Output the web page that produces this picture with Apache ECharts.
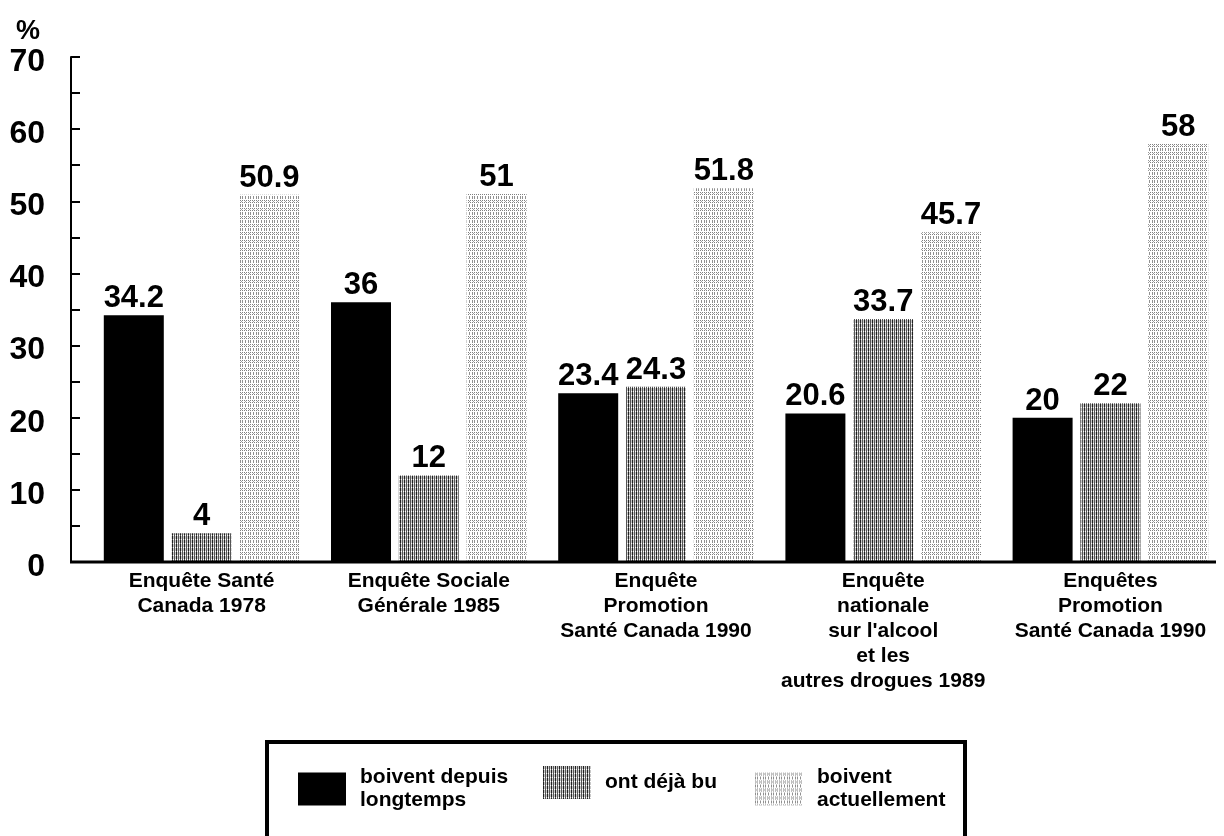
<!DOCTYPE html>
<html>
<head>
<meta charset="utf-8">
<script src="https://cdn.jsdelivr.net/npm/echarts@6/dist/echarts.min.js"></script>
<style>html,body{margin:0;padding:0;background:#fff}#c{width:1224px;height:836px}</style>
</head>
<body>
<div id="c"></div>
<script>
const categories = [
  'Enquête Santé\nCanada 1978',
  'Enquête Sociale\nGénérale 1985',
  'Enquête\nPromotion\nSanté Canada 1990',
  "Enquête\nnationale\nsur l'alcool\net les\nautres drogues 1989",
  'Enquêtes\nPromotion\nSanté Canada 1990'
];
const seriesNames = ['boivent depuis longtemps', 'ont déjà bu', 'boivent actuellement'];
const legendLabels = ['boivent depuis\nlongtemps', 'ont déjà bu', 'boivent\nactuellement'];
const longtemps = [34.2, 36, 23.4, 20.6, 20];
const dejaBu = [4, 12, 24.3, 33.7, 22];
const actuellement = [50.9, 51, 51.8, 45.7, 58];

const FONT = '"Liberation Sans", Arial, sans-serif';

function makePattern(w, h, fn) {
  const cv = document.createElement('canvas');
  cv.width = w; cv.height = h;
  const ctx = cv.getContext('2d');
  for (let x = 0; x < w; x++) for (let y = 0; y < h; y++) {
    ctx.fillStyle = fn(x, y);
    ctx.fillRect(x, y, 1, 1);
  }
  return cv;
}
const patDeja = makePattern(4, 4, (x, y) => {
  if (y === 3) return x % 2 === 0 ? '#555555' : '#ffffff';
  if (x === 0) return '#222222';
  if (x === 2) return '#555555';
  return '#c8c8c8';
});
const patActu = makePattern(8, 8, (x, y) => {
  if ((y === 0 || y === 2) && x % 2 === 0) return '#808080';
  if (y >= 4 && y <= 6 && (x === 0 || x === 2 || x === 5)) return '#909090';
  if (y === 1 && (x === 5 || x === 1)) return '#a0a0a0';
  return '#ffffff';
});

const colors = ['#000000', { image: patDeja, repeat: 'repeat' }, { image: patActu, repeat: 'repeat' }];
const dataSets = [longtemps, dejaBu, actuellement];

const chart = echarts.init(document.getElementById('c'), null, { renderer: 'canvas' });

const labelStyle = {
  show: true, position: 'top', distance: 1,
  fontSize: 31, fontWeight: 'bold', color: '#000', fontFamily: FONT
};

const legendLefts = [298, 543, 755];
const option = {
  backgroundColor: '#ffffff',
  animation: false,
  title: {
    text: '%', left: 11, top: 13,
    textStyle: { fontSize: 27, fontWeight: 'bold', color: '#000', fontFamily: FONT }
  },
  grid: { left: 88, width: 1141, top: 57, bottom: 274, containLabel: false },
  xAxis: {
    type: 'category',
    data: categories,
    axisLine: { show: false },
    axisTick: { show: false },
    axisLabel: {
      margin: 7, interval: 0,
      fontSize: 21, fontWeight: 'bold', color: '#000', fontFamily: FONT, lineHeight: 25
    }
  },
  yAxis: {
    type: 'value', min: 0, max: 70, interval: 5,
    offset: 17,
    axisLine: { show: true, lineStyle: { color: '#000', width: 2 } },
    axisTick: { show: true, inside: true, length: 9, lineStyle: { color: '#000', width: 2 } },
    splitLine: { show: false },
    axisLabel: {
      margin: 26, fontSize: 32, fontWeight: 'bold', color: '#000', fontFamily: FONT,
      verticalAlign: 'top', lineHeight: 10,
      formatter: v => (v % 10 === 0 ? String(v) : '')
    }
  },
  legend: legendLefts.map((l, i) => ({
    data: [seriesNames[i]],
    left: l, top: 766, padding: 0,
    itemWidth: 48, itemHeight: 33,
    selectedMode: false,
    icon: 'rect',
    formatter: name => legendLabels[seriesNames.indexOf(name)],
    textStyle: { fontSize: 21, fontWeight: 'bold', color: '#000', fontFamily: FONT, lineHeight: 23, padding: [0, 0, 0, 9] }
  })),
  series: dataSets.map((d, i) => ({
    name: seriesNames[i],
    type: 'bar',
    data: d,
    barWidth: 60,
    barGap: '13%',
    itemStyle: { color: colors[i] },
    label: labelStyle
  }))
};
chart.setOption(option);

const y0 = chart.convertToPixel({ yAxisIndex: 0 }, 0);
chart.setOption({
  graphic: [
    { type: 'line', id: 'baseline', z: 10, shape: { x1: 70, y1: y0, x2: 1216, y2: y0 }, style: { stroke: '#000', lineWidth: 3 } },
    { type: 'rect', id: 'legendBox', z: 0, shape: { x: 267, y: 742, width: 698, height: 120 }, style: { fill: 'none', stroke: '#000', lineWidth: 4 } }
  ]
});
</script>
</body>
</html>
